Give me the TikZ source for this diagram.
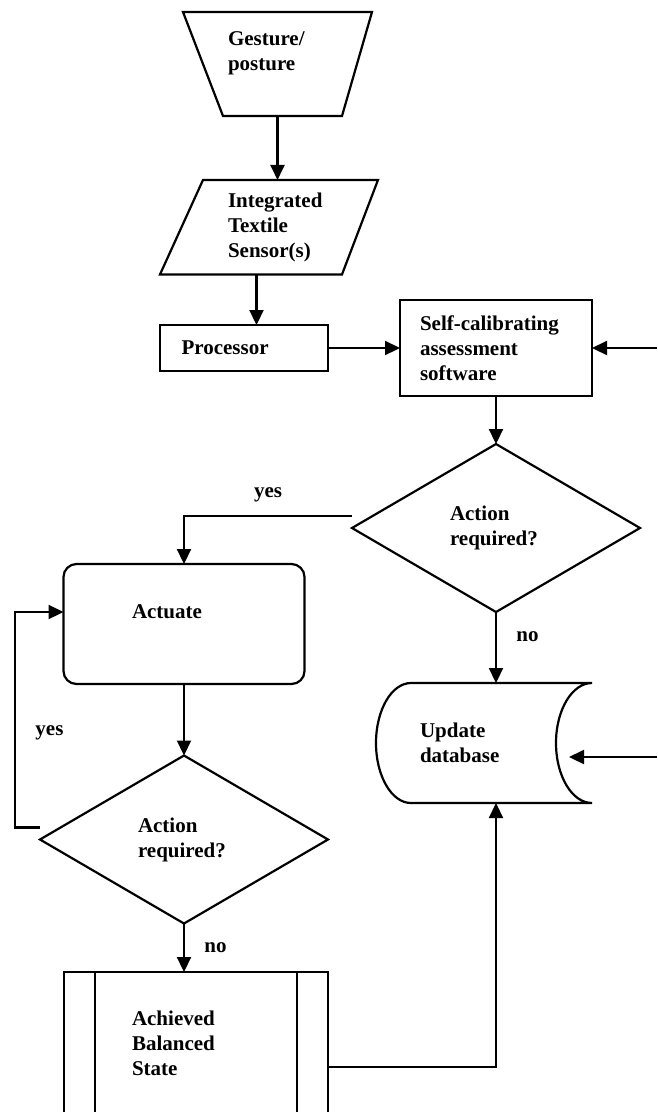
\documentclass[tikz,border=0pt]{standalone}
\usepackage{fontspec}
\setmainfont{Liberation Serif}
\usetikzlibrary{shapes.geometric,arrows.meta,positioning}

\begin{document}
\begin{tikzpicture}[x=1pt,y=1pt,line width=2.2pt,
  every node/.style={font=\bfseries\fontsize{21}{25}\selectfont},
  arr/.style={-{Triangle[length=15pt,width=14pt]}},
  frame/.style={inner sep=0pt,outer sep=0pt,align=left},
  box/.style={frame,draw},
  decision/.style={frame,draw,diamond,minimum width=288pt,
    minimum height=168pt,text width=92pt}]
\path[use as bounding box] (0,0) rectangle (657,-1112);

% input side
\node[frame,minimum width=189pt,minimum height=104pt,text width=99pt]
  (gest) at (277.5,-64) {Gesture/\\posture\\\mbox{}};
\draw (gest.north west) -- (gest.north east) -- ([xshift=-30pt]gest.south east)
  -- ([xshift=40pt]gest.south west) -- cycle;
\node[frame,minimum width=200pt,minimum height=94.5pt,text width=100pt]
  (sens) at (278,-227.2) {Integrated\\Textile\\Sensor(s)};
\draw ([xshift=25pt]sens.north west) -- (sens.north east) -- ([xshift=-36pt]sens.south east)
  -- ([xshift=-18pt]sens.south west) -- cycle;
\node[box,minimum width=168pt,minimum height=46pt,text width=125pt]
  (proc) at (244,-348) {Processor};
\node[box,minimum width=192pt,minimum height=96pt,text width=152pt]
  (self) at (496,-348) {Self-calibrating\\assessment\\software};

% decisions and actions
\node[decision] (dec1) at (496,-528) {Action\\required?};
\node[box,rounded corners=13pt,minimum width=241pt,minimum height=120pt,text width=104pt]
  (act) at (184,-624) {Actuate\\\mbox{}};
\node[decision] (dec2) at (184,-839.5) {Action\\required?};
\node[frame,minimum width=216pt,minimum height=120pt,text width=128pt]
  (db) at (484,-743) {Update\\database};
\draw ([xshift=35pt]db.north west) arc[start angle=90,end angle=270,x radius=35pt,y radius=60pt]
  -- (db.south east) arc[start angle=270,end angle=90,x radius=36pt,y radius=60pt] -- cycle;
\node[box,minimum width=264pt,minimum height=142pt,text width=128pt]
  (bal) at (196,-1043) {Achieved\\Balanced\\State};
\draw ([xshift=31pt]bal.north west) -- ([xshift=31pt]bal.south west)
  ([xshift=-31pt]bal.north east) -- ([xshift=-31pt]bal.south east);

% connectors
\coordinate (sensout) at ([xshift=-21.5pt]sens.south);
\coordinate (in1) at (657,-348);
\coordinate (in2) at (657,-757);
\coordinate (dbport) at ([xshift=-23pt,yshift=-14pt]db.east);
\draw[arr] (gest.south) -- (gest.south |- sens.north);
\draw[arr] (sensout) -- (sensout |- proc.north);
\draw[arr] (proc.east) -- (self.west);
\draw[arr] (in1) -- (self.east);
\draw[arr] (self.south) -- (dec1.north);
\draw[arr] ([yshift=12pt]dec1.west) -| node[pos=0.25,above=10pt] {yes} (act.north);
\draw[arr] (dec1.south) -- node[pos=0.35,right=16pt] {no} (dec1.south |- db.north);
\draw[arr] (in2) -- (dbport);
\draw[arr] (act.south) -- (dec2.north);
\draw[arr] ([yshift=12pt]dec2.west) -- ++(-25,0) |- node[pos=0.22,right=16pt] {yes}
  ([yshift=12pt]act.west);
\draw[arr] (dec2.south) -- node[right=16pt] {no} (dec2.south |- bal.north);
\draw[arr] ([yshift=-24pt]bal.east) -| (dec1.south |- db.south);
\end{tikzpicture}
\end{document}
